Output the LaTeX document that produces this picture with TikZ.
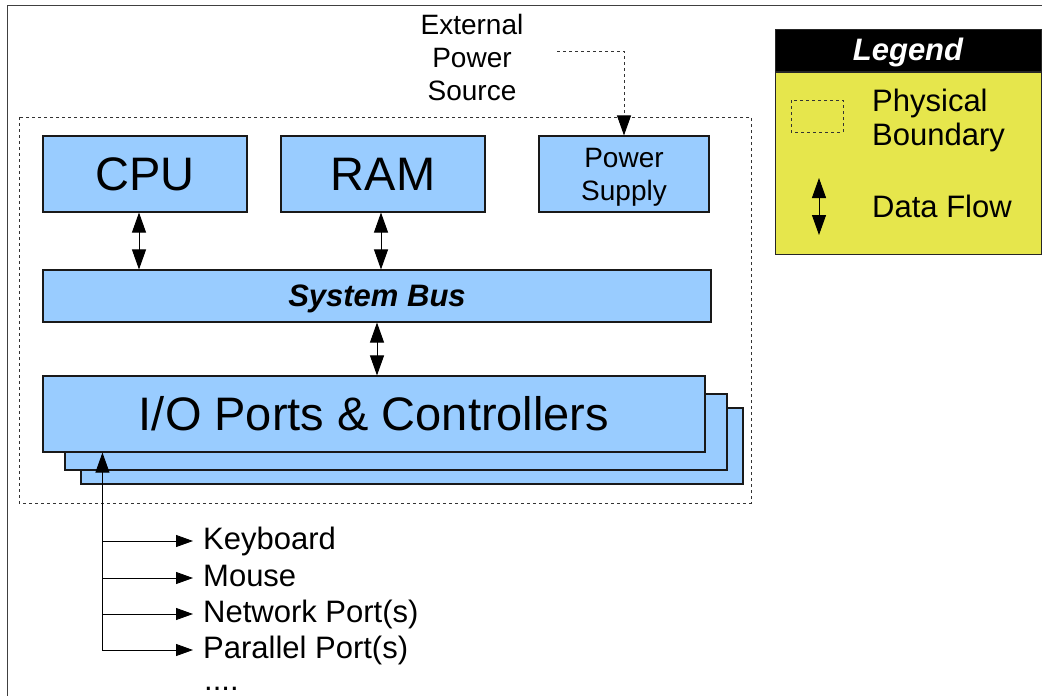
\documentclass[tikz,border=0pt]{standalone}
\usepackage{fontspec}
\setmainfont{Liberation Sans}
\usetikzlibrary{arrows.meta}
\definecolor{boxblue}{RGB}{153,204,255}
\definecolor{legyellow}{RGB}{230,230,76}
\newcommand\myfs[2]{\fontsize{#1pt}{#2pt}\selectfont}
\tikzset{
  bigtip/.tip={Triangle[length=20pt,width=14pt]},
  smalltip/.tip={Triangle[length=17pt,width=12pt]},
  hwbox/.style={draw=black!90, line width=1.1pt, fill=boxblue, inner sep=0pt},
  dflow/.style={{bigtip}-{bigtip}, line width=0.9pt},
  branch/.style={-{smalltip}, line width=0.9pt},
  bound/.style={draw=black!80, line width=0.9pt, dash pattern=on 3pt off 3pt},
  lbl/.style={inner sep=0pt, text height=22pt, text depth=6pt},
}
\begin{document}
\begin{tikzpicture}[x=1pt,y=-1pt]
\useasboundingbox (0,0) rectangle (1042,696);
% outer frame (partly visible)
\draw[black!75, line width=1pt] (7,700) -- (7,5) -- (1046,5);
% physical boundary
\draw[bound] (19,117) rectangle (751,503);
% boxes
\node[hwbox, minimum width=204pt, minimum height=76pt, font=\myfs{47}{50}] (cpu) at (145,174) {CPU};
\node[hwbox, minimum width=204pt, minimum height=76pt, font=\myfs{47}{50}] (ram) at (383,174) {RAM};
\node[hwbox, minimum width=170pt, minimum height=76pt] (ps) at (624,174) {};
\node[font=\myfs{28}{33}, align=center, inner sep=0pt] (pstext) at ([yshift=-3pt]ps.center) {Power\\Supply};
\node[hwbox, minimum width=668pt, minimum height=52pt, text height=28pt, text depth=6.5pt, font=\myfs{31}{36}\bfseries\itshape] (bus) at (377,296) {System Bus};
\node[hwbox, minimum width=662pt, minimum height=76pt] (io3) at (412,446) {};
\node[hwbox, minimum width=662pt, minimum height=76pt] (io2) at (396,432) {};
\node[hwbox, minimum width=662pt, minimum height=76pt, font=\myfs{47}{50}] (io) at (374,414) {I/O Ports \& Controllers};
% data flows
\draw[dflow] ([xshift=-6pt]cpu.south) -- ([xshift=-6pt]cpu.south |- bus.north);
\draw[dflow] ([xshift=-2pt]ram.south) -- ([xshift=-2pt]ram.south |- bus.north);
\draw[dflow] (bus.south) -- (bus.south |- io.north);
% external power
\node[font=\myfs{28}{33}, align=center, inner sep=0pt] (ext) at (472,57) {External\\Power\\Source};
\coordinate (src) at (557,51);
\draw[bound, -{Triangle[length=20pt,width=14pt,black]}] (src) -| (ps.north);
% peripherals
\node[lbl, anchor=west, inner xsep=10pt, font=\myfs{31}{36}] (kb) at (193,541) {Keyboard};
\node[lbl, anchor=west, inner xsep=10pt, font=\myfs{31}{36}] (ms) at (193,578) {Mouse};
\node[lbl, anchor=west, inner xsep=10pt, font=\myfs{31}{36}] (np) at (193,614) {Network Port(s)};
\node[lbl, anchor=west, inner xsep=10pt, font=\myfs{31}{36}] (pp) at (193,650) {Parallel Port(s)};
\node[anchor=base west, inner sep=0pt, font=\myfs{31}{36}] (more) at (204,690) {....};
\coordinate (t) at ([xshift=60pt]io.south west);
\draw[line width=0.9pt, {bigtip}-{smalltip}] (t) |- (pp.west);
\draw[branch] (t |- kb.west) -- (kb.west);
\draw[branch] (t |- ms.west) -- (ms.west);
\draw[branch] (t |- np.west) -- (np.west);
% legend
\node[draw=black!85, line width=1pt, fill=black, minimum width=266pt, minimum height=42pt, inner sep=0pt, text=white, text height=28pt, text depth=6.5pt, font=\myfs{31}{36}\bfseries\itshape] (lh) at (908,50) {Legend};
\node[draw=black!85, line width=1pt, fill=legyellow, minimum width=266pt, minimum height=182pt, inner sep=0pt, anchor=north] (lb) at (lh.south) {};
\draw[bound] (791,100) rectangle (843,132);
\node[anchor=west, align=left, inner sep=0pt, font=\myfs{31}{34}] (lpb) at (872,120) {Physical\\Boundary};
\coordinate (la) at (819,178);
\coordinate (lz) at (819,235);
\draw[line width=0.9pt, {bigtip}-{bigtip}] (la) -- (lz);
\node[anchor=base west, inner sep=0pt, font=\myfs{31}{36}] (ldf) at (872,217) {Data Flow};
\end{tikzpicture}
\end{document}
